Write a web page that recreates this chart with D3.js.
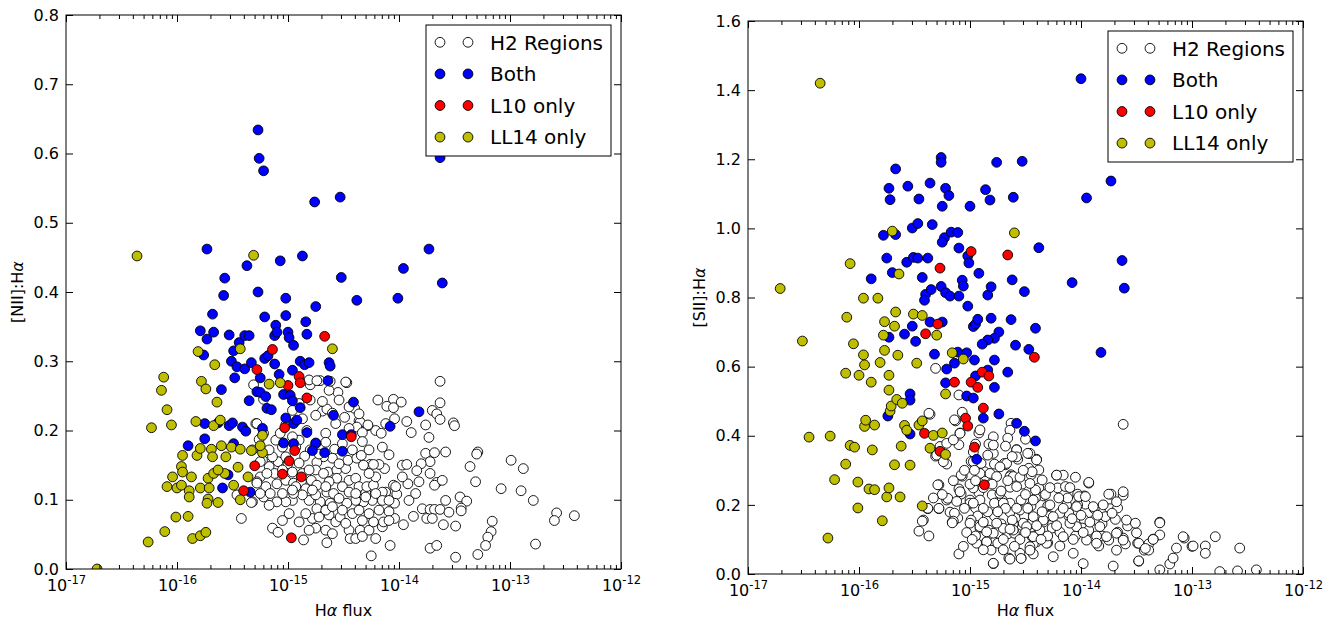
<!DOCTYPE html>
<html><head><meta charset="utf-8">
<script src="https://cdn.jsdelivr.net/npm/d3@7"></script>
<style>
body{margin:0;background:#fff}
svg{display:block}
text{font-family:"DejaVu Sans",sans-serif;fill:#000}
</style>
</head><body>
<svg id="chart" width="1342" height="627"></svg>
<script>
// ---- tick data ----
const xTickExponents = [-17,-16,-15,-14,-13,-12];
const niiTicks = [0,0.1,0.2,0.3,0.4,0.5,0.6,0.7,0.8];
const siiTicks = [0,0.2,0.4,0.6,0.8,1.0,1.2,1.4,1.6];
const seriesNames = ["H2 Regions","Both","L10 only","LL14 only"];
const seriesColors = ["#ffffff","#0000ff","#ff0000","#bfbf00"];

// ---- data: [log10(Halpha flux), ratio] ----
const niiH2 = [
[-13.63,0.271],[-14.19,0.244],[-14.05,0.245],[-13.98,0.241],[-14.11,0.235],[-14.05,0.233],[-13.63,0.240],[-13.70,0.229],[-13.66,0.224],[-13.63,0.216],[-13.76,0.208],[-13.89,0.197],[-13.93,0.213],[-14.04,0.217],[-14.12,0.210],[-14.21,0.200],[-14.16,0.196],[-14.28,0.207],[-14.36,0.214],[-13.51,0.211],[-13.50,0.207],[-13.73,0.190],[-13.76,0.167],[-13.68,0.168],[-13.58,0.169],[-13.72,0.155],[-13.80,0.152],[-13.84,0.142],[-14.09,0.165],[-13.97,0.150],[-13.93,0.151],[-14.13,0.145],[-14.18,0.151],[-14.26,0.151],[-13.72,0.138],[-13.66,0.125],[-13.68,0.121],[-13.61,0.128],[-13.82,0.126],[-13.92,0.123],[-14.05,0.121],[-14.02,0.108],[-14.12,0.111],[-14.16,0.105],[-14.25,0.119],[-14.30,0.110],[-13.79,0.087],[-13.72,0.086],[-13.68,0.086],[-13.63,0.086],[-13.58,0.099],[-13.55,0.082],[-13.45,0.104],[-13.39,0.098],[-13.44,0.088],[-13.44,0.084],[-13.87,0.076],[-13.75,0.073],[-13.70,0.073],[-13.60,0.064],[-13.49,0.062],[-14.04,0.073],[-13.96,0.064],[-14.09,0.083],[-14.04,0.095],[-13.36,0.148],[-13.31,0.126],[-13.29,0.169],[-13.30,0.166],[-12.99,0.157],[-12.88,0.145],[-13.08,0.116],[-12.90,0.113],[-12.79,0.099],[-12.58,0.081],[-12.60,0.070],[-12.42,0.077],[-12.77,0.036],[-13.16,0.069],[-13.17,0.054],[-13.20,0.046],[-13.22,0.034],[-13.29,0.021],[-13.49,0.017],[-13.72,0.030],[-13.66,0.034],[-14.25,0.019],[-14.08,0.034],[-14.65,0.038],
[-14.47,0.269],[-14.55,0.255],[-14.63,0.258],[-14.71,0.272],[-14.62,0.271],[-14.80,0.266],[-14.69,0.228],[-14.65,0.231],[-14.49,0.219],[-14.35,0.212],[-14.40,0.232],[-14.38,0.205],[-14.28,0.208],[-14.33,0.197],[-14.45,0.203],[-14.57,0.210],[-14.66,0.196],[-14.66,0.183],[-14.33,0.184],[-14.58,0.173],[-14.60,0.160],[-14.68,0.162],[-14.74,0.154],[-14.72,0.166],[-14.80,0.172],[-14.85,0.163],[-14.90,0.153],[-15.00,0.152],[-15.09,0.155],[-15.14,0.162],[-15.17,0.148],[-15.12,0.138],[-15.23,0.157],[-15.25,0.133],[-15.28,0.126],[-15.20,0.119],[-15.10,0.123],[-15.02,0.128],[-14.95,0.124],[-14.88,0.126],[-14.84,0.116],[-14.79,0.128],[-14.74,0.121],[-14.64,0.140],[-14.56,0.143],[-14.48,0.145],[-14.46,0.157],[-14.38,0.160],[-14.34,0.164],[-14.32,0.150],[-14.23,0.151],[-14.45,0.128],[-14.39,0.131],[-14.56,0.131],[-14.63,0.126],[-14.65,0.111],[-14.59,0.109],[-14.51,0.119],[-14.45,0.111],[-14.36,0.119],[-14.29,0.119],[-14.23,0.121],[-14.15,0.111],[-14.15,0.099],[-14.24,0.099],[-14.32,0.097],[-14.39,0.099],[-14.47,0.095],[-14.54,0.102],[-14.62,0.095],[-14.71,0.097],[-14.74,0.087],[-14.81,0.099],[-14.87,0.107],[-14.96,0.099],[-15.02,0.097],[-15.10,0.097],[-15.17,0.092],[-15.22,0.104],[-15.32,0.097],[-14.99,0.080],[-14.90,0.068],[-14.78,0.073],[-14.75,0.059],[-14.81,0.056],[-14.63,0.078],[-14.57,0.068],[-14.53,0.075],[-14.45,0.056],[-14.44,0.044],[-14.39,0.044],[-14.35,0.056],[-14.27,0.056],[-14.23,0.068],[-14.15,0.061],[-14.14,0.068],[-14.21,0.044],[-14.33,0.070],[-14.42,0.080],[-15.14,0.059],[-15.09,0.053],[-14.86,0.042],[-14.66,0.085],[-14.93,0.119],[-14.75,0.143],[-14.87,0.138],[-14.96,0.140],[-14.75,0.107],[-14.95,0.109],[-15.05,0.109],[-15.16,0.109],[-15.25,0.109],[-15.11,0.186],[-15.05,0.176],[-14.90,0.186],[-14.96,0.191],[-14.83,0.200],[-15.02,0.208],[-15.07,0.196],[-15.22,0.196],[-15.29,0.210],[-15.26,0.187],[-15.32,0.172],[-14.81,0.273],[-14.74,0.272],[-14.48,0.270],[-14.69,0.242],[-14.60,0.225],
[-15.42,0.073],[-15.33,0.096],[-15.46,0.107],[-15.28,0.210],[-15.31,0.266],[-15.22,0.245],[-15.19,0.138],[-15.25,0.155],[-15.28,0.124],
[-14.80,0.244],[-14.90,0.239],[-14.96,0.229],[-14.87,0.217],[-14.75,0.222],[-14.54,0.244],[-14.45,0.234],[-14.36,0.224],[-14.75,0.181],[-14.51,0.181],[-14.42,0.172],[-14.27,0.172],[-14.15,0.176],[-14.54,0.152],[-14.68,0.138],[-14.81,0.143],[-15.05,0.143],[-15.02,0.162],[-15.17,0.172],[-14.93,0.176],[-14.60,0.090],[-14.51,0.085],[-14.36,0.085],[-14.27,0.080],[-14.18,0.085],[-14.09,0.070],[-14.48,0.066],[-14.66,0.056],[-14.60,0.051],[-14.33,0.047],[-15.05,0.070],[-14.84,0.080],[-14.72,0.075],[-14.96,0.114],[-14.78,0.114],[-14.66,0.119],[-14.39,0.109],[-14.30,0.104],[-14.21,0.109],[-14.09,0.099],[-14.03,0.119],[-13.97,0.133],[-13.91,0.099],[-13.85,0.109],[-14.21,0.133],[-14.27,0.138]
];
const niiBoth = [
[-15.27,0.634],[-15.26,0.593],[-15.22,0.575],[-14.76,0.530],[-14.53,0.537],[-13.63,0.594],[-15.73,0.462],[-15.37,0.438],[-14.87,0.452],[-15.07,0.445],[-13.73,0.462],[-13.96,0.434],[-13.61,0.413],[-15.57,0.420],[-15.58,0.395],[-15.27,0.400],[-14.52,0.421],[-15.02,0.391],[-14.38,0.388],[-14.01,0.391],[-15.68,0.368],[-15.21,0.364],[-15.02,0.366],[-14.75,0.379],[-14.84,0.357],[-15.11,0.352],[-15.79,0.344],[-15.67,0.342],[-15.73,0.332],[-15.76,0.309],[-15.53,0.338],[-15.44,0.327],[-15.39,0.337],[-15.35,0.337],[-15.49,0.315],[-15.51,0.300],[-15.46,0.292],[-15.39,0.289],[-15.33,0.298],[-15.48,0.276],[-15.21,0.304],[-15.18,0.308],[-15.12,0.296],[-15.12,0.337],[-15.10,0.342],[-15.00,0.342],[-14.99,0.334],[-14.95,0.323],[-14.89,0.300],[-14.85,0.295],[-14.83,0.339],[-14.81,0.298],[-14.63,0.298],[-14.62,0.293],[-14.64,0.272],[-14.96,0.287],[-15.08,0.281],[-15.25,0.276],[-15.60,0.259],[-15.35,0.243],[-15.28,0.256],[-15.25,0.255],[-15.20,0.249],[-15.19,0.232],[-15.15,0.230],[-15.04,0.252],[-14.98,0.251],[-14.96,0.243],[-14.89,0.233],[-14.59,0.222],[-14.41,0.241],[-13.82,0.227],[-14.08,0.206],[-15.75,0.210],[-15.75,0.188],[-15.90,0.178],[-15.63,0.211],[-15.53,0.207],[-15.50,0.211],[-15.41,0.205],[-15.38,0.199],[-15.23,0.203],[-15.02,0.218],[-14.95,0.210],[-14.92,0.215],[-14.83,0.197],[-14.75,0.182],[-14.78,0.171],[-14.67,0.168],[-15.04,0.182],[-14.95,0.181],[-15.49,0.181],[-14.51,0.194],[-14.43,0.194],[-14.51,0.170],[-15.54,0.136],[-15.59,0.117],[-15.34,0.111]
];
const niiL10 = [
[-14.67,0.336],[-15.14,0.317],[-15.28,0.288],[-14.90,0.278],[-14.89,0.269],[-15.00,0.265],[-14.83,0.247],[-15.03,0.204],[-14.94,0.171],[-14.99,0.156],[-15.30,0.149],[-15.05,0.137],[-14.88,0.133],[-15.40,0.113],[-14.43,0.191],[-14.97,0.045]
];
const niiLL14 = [
[-16.72,0.000],[-16.36,0.452],[-15.31,0.453],[-15.43,0.318],[-14.60,0.318],[-15.07,0.269],[-15.17,0.267],[-16.12,0.277],[-16.14,0.258],[-16.09,0.230],[-16.23,0.204],[-16.05,0.208],[-15.81,0.314],[-15.66,0.295],[-15.78,0.271],[-15.74,0.260],[-15.64,0.241],[-15.83,0.213],[-15.67,0.207],[-15.61,0.215],[-15.95,0.164],[-15.82,0.164],[-15.79,0.174],[-15.69,0.173],[-15.68,0.162],[-15.56,0.162],[-15.60,0.178],[-15.51,0.176],[-15.43,0.173],[-15.33,0.171],[-15.23,0.168],[-15.23,0.193],[-15.25,0.178],[-15.96,0.148],[-15.95,0.140],[-16.04,0.133],[-15.87,0.133],[-16.09,0.119],[-16.00,0.117],[-15.96,0.121],[-15.89,0.113],[-15.89,0.104],[-15.79,0.117],[-15.72,0.131],[-15.71,0.117],[-15.72,0.101],[-15.73,0.095],[-15.63,0.096],[-15.67,0.138],[-15.57,0.138],[-15.63,0.143],[-15.45,0.147],[-15.49,0.121],[-15.36,0.133],[-15.43,0.100],[-16.01,0.075],[-15.90,0.076],[-16.11,0.054],[-16.26,0.039],[-15.86,0.044],[-15.79,0.048],[-15.74,0.053]
];
const siiH2 = [
[-13.62,0.433],[-15.31,0.595],[-15.10,0.518],[-15.36,0.462],[-15.07,0.468],[-15.13,0.443],[-15.09,0.408],[-14.92,0.408],[-14.79,0.397],[-14.63,0.436],[-14.64,0.416],[-15.27,0.369],[-15.31,0.341],[-15.10,0.374],[-14.95,0.376],[-14.97,0.353],[-14.83,0.376],[-14.78,0.318],[-14.68,0.316],[-14.58,0.360],[-14.57,0.332],[-14.47,0.349],[-14.40,0.332],[-15.21,0.318],[-14.99,0.326],[-14.86,0.283],[-14.63,0.287],[-14.45,0.287],[-14.53,0.260],[-14.64,0.251],[-14.80,0.229],[-14.71,0.214],[-14.92,0.235],[-14.95,0.191],[-15.07,0.283],[-15.10,0.246],[-15.08,0.231],[-15.21,0.214],[-15.18,0.179],[-15.16,0.150],[-15.28,0.258],[-15.28,0.189],[-15.38,0.189],[-15.42,0.156],[-15.46,0.124],[-15.10,0.058],[-14.79,0.030],[-14.65,0.046],[-14.54,0.046],[-14.43,0.058],[-14.40,0.093],[-14.30,0.090],[-14.19,0.081],[-14.07,0.060],[-13.98,0.030],[-13.71,0.023],[-13.48,0.037],[-13.43,0.069],[-13.39,0.087],[-13.29,0.012],[-13.20,0.029],[-13.17,0.046],[-13.14,0.075],[-13.07,0.104],[-13.00,0.080],[-12.88,0.081],[-12.88,0.060],[-12.79,0.108],[-12.75,0.007],[-12.59,0.009],[-12.57,0.075],[-12.42,0.012],[-13.29,0.150],[-13.29,0.113],[-13.35,0.101],[-13.49,0.089],[-13.50,0.119],[-13.58,0.139],[-13.62,0.104],[-13.60,0.087],[-13.69,0.158],[-13.73,0.231],[-13.74,0.189],[-13.81,0.145],[-13.67,0.191],[-13.62,0.228],[-13.81,0.110],[-13.75,0.098],[-13.86,0.110],[-13.94,0.121],[-13.84,0.081],[-13.67,0.121],[-13.93,0.263],[-13.97,0.226],[-13.96,0.202],[-14.03,0.231],[-14.03,0.200],[-13.97,0.156],[-13.88,0.189],[-13.88,0.156],[-13.99,0.133],[-14.05,0.110],[-14.11,0.168],[-14.13,0.200],[-14.12,0.220],[-14.21,0.249],[-14.22,0.286],[-14.16,0.286],[-14.30,0.197],[-14.28,0.168],[-14.34,0.150],[-14.38,0.121],[-14.26,0.133],[-14.19,0.121],[-14.34,0.226],[-14.38,0.249],[-14.41,0.220],[-14.45,0.197],[-14.51,0.168],[-14.45,0.145],[-14.53,0.133],[-14.61,0.145],[-14.57,0.116],[-14.43,0.087],[-14.66,0.116],[-14.72,0.145],[-14.64,0.179],[-14.78,0.168],[-14.83,0.127],[-14.85,0.093],[-14.78,0.093],[-14.91,0.133],[-14.93,0.168],[-15.00,0.214],[-14.91,0.214],[-14.97,0.249],[-15.00,0.260],[-14.47,0.306],[-14.38,0.301],[-15.37,0.110],[-15.11,0.162],[-14.99,0.156],
[-13.62,0.238],[-13.75,0.231],[-13.93,0.265],[-13.29,0.148],[-13.08,0.108],[-12.99,0.081],[-13.35,0.100],[-13.39,0.069],[-13.48,0.038],[-14.25,0.050],[-14.64,0.043],[-14.79,0.031],
[-15.08,0.286],[-15.09,0.238],[-15.14,0.176],[-15.15,0.153],[-15.00,0.205],[-14.91,0.137],[-14.85,0.093],[-14.79,0.118],[-14.87,0.296],[-14.90,0.320],[-14.82,0.291],[-14.69,0.320],[-14.64,0.282],[-14.58,0.359],[-14.46,0.349],[-14.40,0.330],[-14.44,0.296],[-14.35,0.272],[-14.58,0.253],[-14.73,0.233],[-14.78,0.205],[-14.64,0.205],[-14.54,0.214],[-14.43,0.214],[-14.41,0.243],[-14.22,0.286],[-14.14,0.253],[-14.02,0.224],[-13.96,0.224],[-14.04,0.195],[-14.11,0.176],[-14.19,0.176],[-14.28,0.200],[-14.25,0.166],[-14.34,0.156],[-14.43,0.166],[-14.52,0.147],[-14.62,0.156],[-14.70,0.132],[-14.60,0.118],[-14.44,0.108],[-14.37,0.127],[-14.31,0.089],[-14.46,0.079],[-14.55,0.060],[-14.16,0.108],[-14.04,0.137],[-13.93,0.127],[-13.86,0.089],[-13.95,0.098],[-14.10,0.147],[-13.83,0.137],[-13.77,0.108],[-13.68,0.118],[-13.68,0.069],[-13.62,0.098],[-13.59,0.156],[-13.51,0.147],[-13.48,0.089],[-13.42,0.074],[-13.89,0.195],[-13.78,0.166],[-13.68,0.209],[-13.72,0.176],[-14.81,0.069],[-14.94,0.089],[-14.79,0.349],[-14.66,0.393],[-14.91,0.417],[-15.14,0.446],
[-15.37,0.465],[-15.29,0.258],[-15.43,0.153],[-15.38,0.190],[-15.28,0.190],[-15.20,0.219],[-15.16,0.148],[-15.21,0.378],[-15.30,0.344],[-15.24,0.325],[-15.15,0.388],[-15.09,0.407],[-14.97,0.325],[-14.84,0.344],[-14.79,0.373],[-14.67,0.320],[-14.58,0.339],[-14.48,0.349],[-14.91,0.291],[-14.76,0.282],[-14.61,0.282],[-14.46,0.262],[-14.97,0.205],[-14.84,0.180],[-14.70,0.205],[-14.55,0.185],[-15.00,0.147],[-14.85,0.122],[-14.76,0.147],[-14.61,0.127],[-14.49,0.137],[-14.54,0.045],[-14.43,0.108],[-14.75,0.089],[-14.46,0.069],
[-15.05,0.300],[-14.95,0.270],[-14.88,0.250],[-14.80,0.260],[-14.72,0.240],[-14.66,0.270],[-14.55,0.280],[-14.50,0.230],[-14.48,0.190],[-14.58,0.190],[-14.68,0.190],[-14.75,0.180],[-14.88,0.190],[-15.05,0.190],[-15.12,0.210],[-15.03,0.120],[-14.95,0.110],[-14.88,0.150],[-14.70,0.100],[-14.64,0.130],[-14.55,0.100],[-14.50,0.120],[-14.40,0.140],[-14.35,0.180],[-14.32,0.230],[-14.28,0.250],[-14.20,0.220],[-14.16,0.190],[-14.08,0.160],[-14.00,0.170],[-13.92,0.150],[-13.85,0.170],[-13.80,0.200],[-14.10,0.250],[-14.05,0.280],[-13.98,0.120],[-14.07,0.100],[-14.22,0.140],[-14.30,0.110],[-14.36,0.100],[-14.60,0.080],[-14.70,0.070],[-14.88,0.070],[-14.98,0.100],[-15.06,0.080],[-14.52,0.300],[-14.62,0.340],[-14.73,0.310],[-14.96,0.300],[-15.15,0.270],[-15.25,0.230],[-15.33,0.220],[-14.68,0.370],[-14.50,0.390]
];
const siiBoth = [
[-14.00,1.433],[-13.73,1.137],[-13.95,1.088],[-13.63,0.907],[-13.61,0.827],[-14.08,0.843],[-13.82,0.641],[-14.38,0.944],[-15.26,1.205],[-15.26,1.191],[-14.76,1.191],[-14.53,1.194],[-15.67,1.172],[-15.73,1.116],[-15.72,1.083],[-15.56,1.122],[-15.36,1.131],[-15.46,1.085],[-15.22,1.116],[-15.19,1.095],[-15.25,1.064],[-15.00,1.064],[-14.86,1.112],[-14.82,1.082],[-14.61,1.090],[-15.78,0.980],[-15.67,0.982],[-15.52,1.001],[-15.47,1.014],[-15.34,1.011],[-15.23,0.973],[-15.25,0.960],[-15.17,0.989],[-15.11,0.988],[-15.75,0.914],[-15.70,0.872],[-15.57,0.902],[-15.51,0.916],[-15.47,0.914],[-15.38,0.914],[-15.10,0.943],[-15.02,0.920],[-15.01,0.900],[-15.89,0.854],[-15.43,0.858],[-15.40,0.809],[-15.35,0.823],[-15.26,0.832],[-15.22,0.814],[-15.18,0.804],[-15.10,0.804],[-15.07,0.850],[-15.06,0.833],[-15.02,0.775],[-14.92,0.870],[-14.84,0.807],[-14.81,0.831],[-14.62,0.851],[-14.51,0.817],[-15.41,0.792],[-15.52,0.717],[-15.49,0.673],[-15.59,0.694],[-15.73,0.685],[-15.36,0.729],[-15.25,0.729],[-14.97,0.716],[-14.95,0.723],[-14.93,0.737],[-14.81,0.740],[-14.74,0.700],[-14.78,0.682],[-14.84,0.677],[-14.89,0.665],[-14.63,0.736],[-14.59,0.662],[-14.41,0.711],[-14.47,0.650],[-15.32,0.636],[-15.11,0.642],[-15.03,0.640],[-15.14,0.610],[-15.21,0.593],[-14.96,0.619],[-14.78,0.619],[-14.66,0.584],[-14.84,0.590],[-14.95,0.573],[-15.22,0.553],[-14.78,0.540],[-15.54,0.521],[-15.54,0.503],[-15.03,0.515],[-14.97,0.509],[-15.74,0.457],[-14.74,0.463],[-14.88,0.451],[-14.58,0.436],[-14.51,0.413],[-14.41,0.385],[-15.54,0.405],[-14.94,0.332]
];
const siiL10 = [
[-14.99,0.933],[-14.66,0.923],[-15.27,0.885],[-15.29,0.723],[-15.40,0.695],[-14.42,0.627],[-14.89,0.584],[-14.83,0.573],[-15.14,0.555],[-14.99,0.555],[-14.93,0.540],[-14.88,0.480],[-15.04,0.451],[-15.02,0.428],[-15.41,0.407],[-14.96,0.367],[-15.27,0.355],[-14.87,0.258]
];
const siiLL14 = [
[-16.35,1.420],[-16.71,0.826],[-16.51,0.674],[-16.45,0.396],[-16.28,0.104],[-16.26,0.399],[-16.22,0.273],[-16.12,0.318],[-16.12,0.581],[-16.11,0.743],[-16.08,0.898],[-16.08,0.372],[-16.04,0.367],[-16.05,0.666],[-16.01,0.266],[-16.01,0.191],[-16.00,0.575],[-15.96,0.634],[-15.95,0.605],[-15.96,0.798],[-15.95,0.427],[-15.94,0.445],[-15.89,0.555],[-15.88,0.359],[-15.91,0.246],[-15.86,0.244],[-15.86,0.431],[-15.83,0.798],[-15.81,0.612],[-15.79,0.154],[-15.77,0.730],[-15.78,0.691],[-15.77,0.647],[-15.75,0.223],[-15.73,0.575],[-15.73,0.532],[-15.73,0.249],[-15.72,0.471],[-15.71,0.486],[-15.70,0.992],[-15.67,0.758],[-15.68,0.717],[-15.68,0.316],[-15.66,0.505],[-15.65,0.633],[-15.64,0.868],[-15.63,0.223],[-15.62,0.370],[-15.61,0.494],[-15.59,0.430],[-15.57,0.416],[-15.54,0.315],[-15.51,0.752],[-15.48,0.610],[-15.46,0.431],[-15.43,0.748],[-15.43,0.443],[-15.43,0.197],[-15.36,0.364],[-15.33,0.401],[-15.30,0.691],[-15.25,0.408],[-15.22,0.346],[-15.22,0.521],[-15.16,0.640],[-15.06,0.622],[-14.60,0.987]
];

// ---- drawing ----
const svg = d3.select("#chart");
svg.append("rect").attr("width",1342).attr("height",627).attr("fill","#fff");
const R = 4.9, SW = 0.9;

function drawPanel(cfg, idx){
  const {left,right,top,bottom,yMax,yTicks,yLabel,series} = cfg;
  const x = d3.scaleLog().domain([1e-17,1e-12]).range([left,right]);
  const y = d3.scaleLinear().domain([0,yMax]).range([bottom,top]);
  const g = svg.append("g");
  const clipId = "clip"+idx;
  g.append("clipPath").attr("id",clipId).append("rect")
    .attr("x",left).attr("y",top).attr("width",right-left).attr("height",bottom-top);
  const pg = g.append("g").attr("clip-path",`url(#${clipId})`);
  series.forEach((s,i)=>{
    pg.append("g").selectAll("circle").data(s).join("circle")
      .attr("cx",d=>x(Math.pow(10,d[0]))).attr("cy",d=>y(d[1]))
      .attr("r",R).attr("fill",seriesColors[i]).attr("stroke","#000").attr("stroke-width",SW);
  });
  const majors = xTickExponents.map(e=>Math.pow(10,e));
  const minors = [];
  for(let e=-17;e<-12;e++) for(let m=2;m<=9;m++) minors.push(m*Math.pow(10,e));
  const clean = sel=>{sel.select(".domain").remove(); sel.selectAll("line").attr("stroke","#000").attr("stroke-width",1);};
  const bx = g.append("g").attr("transform",`translate(0,${bottom})`)
    .call(d3.axisBottom(x).tickValues(majors).tickSize(-7).tickPadding(10.5).tickFormat(d=>d)).call(clean);
  bx.selectAll("text").attr("font-size",16).attr("font-family","DejaVu Sans").each(function(d){
    const t=d3.select(this); const e=Math.round(Math.log10(d)); t.text("");
    t.append("tspan").text("10");
    t.append("tspan").attr("dy",-6.5).attr("font-size",11.5).text(String(e));
  });
  g.append("g").attr("transform",`translate(0,${bottom})`)
    .call(d3.axisBottom(x).tickValues(minors).tickSize(-4).tickFormat("")).call(clean);
  g.append("g").attr("transform",`translate(0,${top})`)
    .call(d3.axisTop(x).tickValues(majors).tickSize(-7).tickFormat("")).call(clean);
  g.append("g").attr("transform",`translate(0,${top})`)
    .call(d3.axisTop(x).tickValues(minors).tickSize(-4).tickFormat("")).call(clean);
  const ly = g.append("g").attr("transform",`translate(${left},0)`)
    .call(d3.axisLeft(y).tickValues(yTicks).tickSize(-7).tickPadding(7).tickFormat(d3.format(".1f"))).call(clean);
  ly.selectAll("text").attr("font-size",16).attr("font-family","DejaVu Sans");
  g.append("g").attr("transform",`translate(${right},0)`)
    .call(d3.axisRight(y).tickValues(yTicks).tickSize(-7).tickFormat("")).call(clean);
  g.append("rect").attr("x",left).attr("y",top).attr("width",right-left).attr("height",bottom-top)
    .attr("fill","none").attr("stroke","#000").attr("stroke-width",1);
  const xt = g.append("text").attr("x",(left+right)/2).attr("y",616).attr("text-anchor","middle").attr("font-size",16);
  xt.append("tspan").text("H"); xt.append("tspan").attr("font-style","italic").text("α"); xt.append("tspan").text(" flux");
  const yt = g.append("text").attr("transform",`translate(${left-43},${(top+bottom)/2}) rotate(-90)`)
    .attr("text-anchor","middle").attr("font-size",16);
  yt.append("tspan").text(yLabel+":H"); yt.append("tspan").attr("font-style","italic").text("α");
  const lr = right-10, ll = lr-185, lt = top+10, lb = top+141;
  const lg = g.append("g");
  lg.append("rect").attr("x",ll).attr("y",lt).attr("width",lr-ll).attr("height",lb-lt)
    .attr("fill","#fff").attr("stroke","#000").attr("stroke-width",1);
  seriesNames.forEach((name,i)=>{
    const cy = lt+17.3+i*31.6;
    [14,42].forEach(dx=>lg.append("circle").attr("cx",ll+dx).attr("cy",cy).attr("r",R)
      .attr("fill",seriesColors[i]).attr("stroke","#000").attr("stroke-width",SW));
    lg.append("text").attr("x",ll+64).attr("y",cy).attr("dy","0.36em").attr("font-size",20).text(name);
  });
}

drawPanel({left:66,right:621,top:15,bottom:569,yMax:0.8,yTicks:niiTicks,yLabel:"[NII]",
  series:[niiH2,niiBoth,niiL10,niiLL14]},0);
drawPanel({left:748,right:1303,top:21,bottom:574,yMax:1.6,yTicks:siiTicks,yLabel:"[SII]",
  series:[siiH2,siiBoth,siiL10,siiLL14]},1);
</script>
</body></html>
